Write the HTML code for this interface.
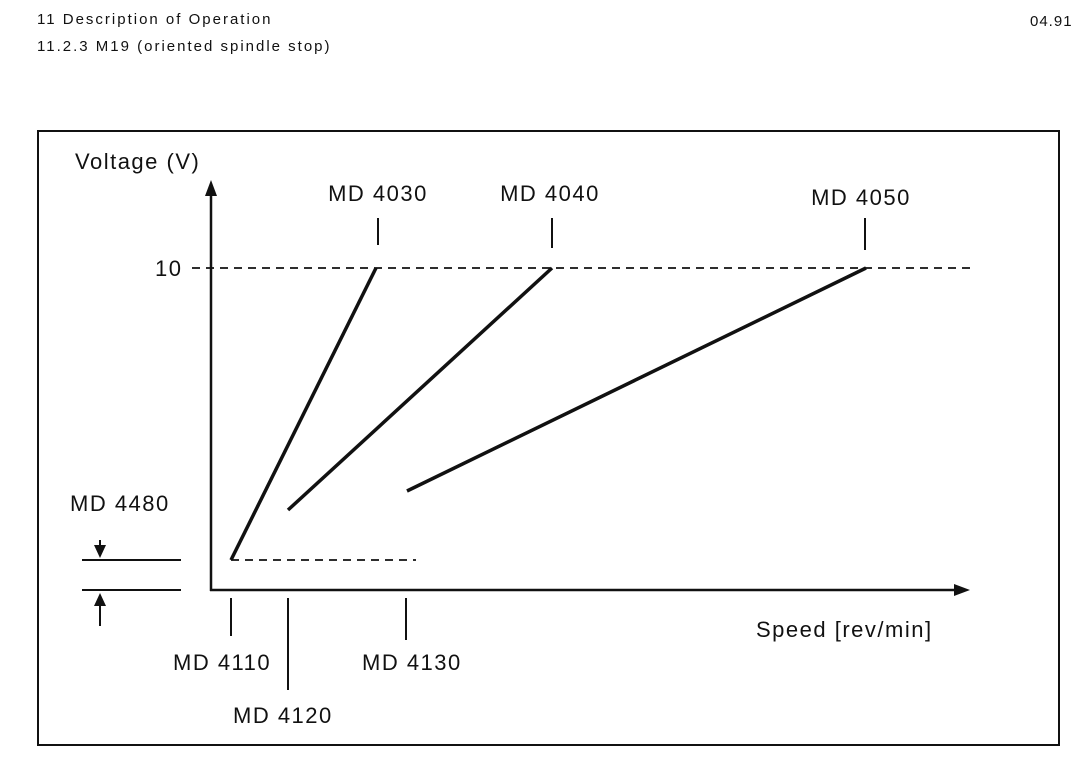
<!DOCTYPE html>
<html><head><meta charset="utf-8"><style>
html,body{margin:0;padding:0;background:#fff;}
svg{display:block;}
text{font-family:"Liberation Sans",Arial,sans-serif;fill:#111;}
</style></head><body>
<svg width="1089" height="770" viewBox="0 0 1089 770" xmlns="http://www.w3.org/2000/svg">
<g font-size="15" letter-spacing="2">
<text x="37" y="24">11 Description of Operation</text>
<text x="37" y="51">11.2.3 M19 (oriented spindle stop)</text>
<text x="1030" y="26" letter-spacing="1">04.91</text>
</g>
<rect x="38" y="131" width="1021" height="614" fill="none" stroke="#111" stroke-width="2"/>
<g stroke="#111" fill="none">
<line x1="211" y1="192" x2="211" y2="591" stroke-width="2.5"/>
<polygon points="211,180 205,196 217,196" fill="#111" stroke="none"/>
<line x1="210" y1="590" x2="958" y2="590" stroke-width="2.5"/>
<polygon points="970,590 954,584 954,596" fill="#111" stroke="none"/>
<line x1="192" y1="268" x2="975" y2="268" stroke-width="1.8" stroke-dasharray="8,6"/>
<line x1="231" y1="560" x2="416" y2="560" stroke-width="1.8" stroke-dasharray="8,6"/>
<line x1="231" y1="560" x2="376" y2="268" stroke-width="3.5"/>
<line x1="288" y1="510" x2="552" y2="268" stroke-width="3.5"/>
<line x1="407" y1="491" x2="866" y2="268" stroke-width="3.5"/>
<line x1="82" y1="560" x2="181" y2="560" stroke-width="2"/>
<line x1="82" y1="590" x2="181" y2="590" stroke-width="2"/>
<line x1="100" y1="540" x2="100" y2="552" stroke-width="2"/>
<line x1="100" y1="604" x2="100" y2="626" stroke-width="2"/>
<line x1="231" y1="598" x2="231" y2="636" stroke-width="2"/>
<line x1="288" y1="598" x2="288" y2="690" stroke-width="2"/>
<line x1="406" y1="598" x2="406" y2="640" stroke-width="2"/>
<line x1="378" y1="218" x2="378" y2="245" stroke-width="2"/>
<line x1="552" y1="218" x2="552" y2="248" stroke-width="2"/>
<line x1="865" y1="218" x2="865" y2="250" stroke-width="2"/>
</g>
<polygon points="100,558 94,545 106,545" fill="#111"/>
<polygon points="100,593 94,606 106,606" fill="#111"/>
<g font-size="22" letter-spacing="1.5">
<text x="75" y="169">Voltage (V)</text>
<text x="155" y="276">10</text>
<text x="378" y="201" text-anchor="middle">MD 4030</text>
<text x="550" y="201" text-anchor="middle">MD 4040</text>
<text x="861" y="205" text-anchor="middle">MD 4050</text>
<text x="70" y="511">MD 4480</text>
<text x="173" y="670">MD 4110</text>
<text x="233" y="723">MD 4120</text>
<text x="362" y="670">MD 4130</text>
<text x="756" y="637">Speed [rev/min]</text>
</g>
</svg>
</body></html>
